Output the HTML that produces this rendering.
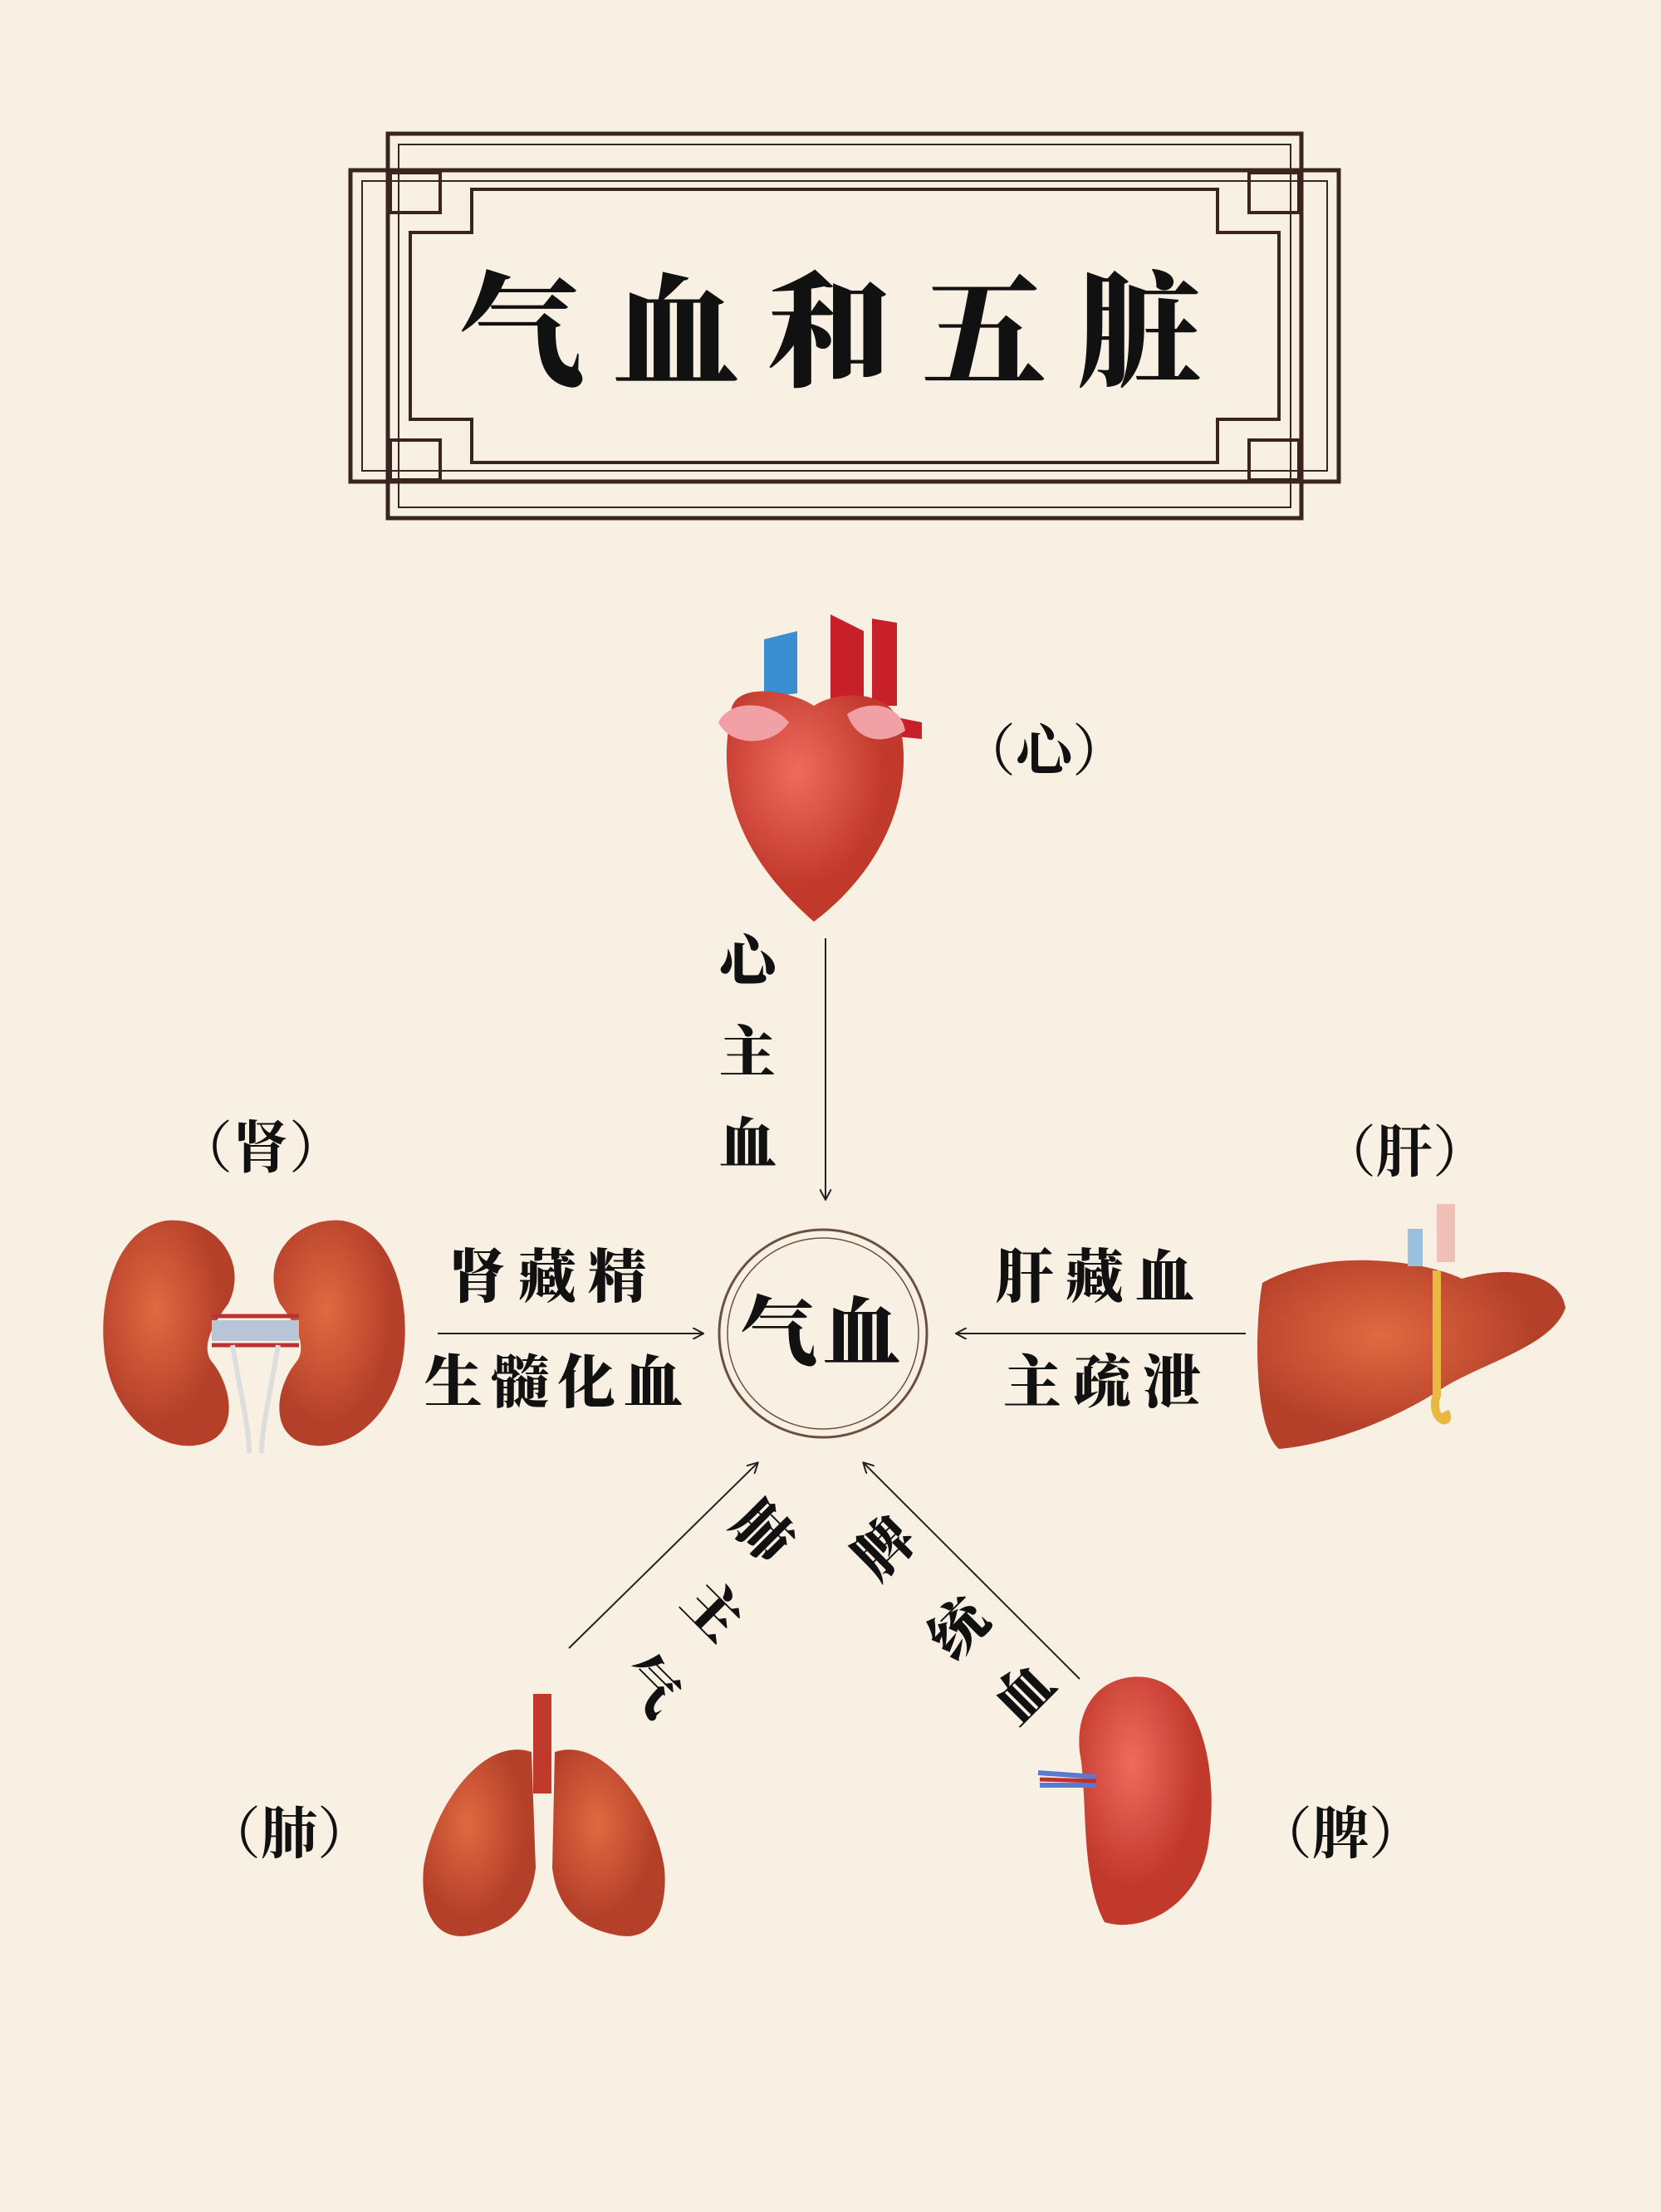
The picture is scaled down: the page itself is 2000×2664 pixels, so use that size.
<!DOCTYPE html>
<html><head><meta charset="utf-8"><style>
html,body{margin:0;padding:0}
body{width:2000px;height:2664px;background:#f9f0e4;position:relative;overflow:hidden;font-family:"Liberation Serif","Noto Serif CJK SC",serif;color:#111}
.t{position:absolute;font-weight:900;white-space:nowrap;transform:translate(-50%,-50%);line-height:1}
.p{font-weight:400}
svg{position:absolute;left:0;top:0}
</style></head><body>
<svg width="2000" height="2664" viewBox="0 0 2000 2664">
<defs><marker id="a" markerWidth="14" markerHeight="14" refX="12" refY="7" orient="auto" markerUnits="userSpaceOnUse"><path d="M0,0 L13,7 L0,14" fill="none" stroke="#222" stroke-width="2"/></marker>
<radialGradient id="r" cx="40%" cy="35%"><stop offset="0" stop-color="#f06a5e"/><stop offset="1" stop-color="#c0392b"/></radialGradient>
<radialGradient id="o" cx="40%" cy="40%"><stop offset="0" stop-color="#e06a40"/><stop offset="1" stop-color="#b5402a"/></radialGradient></defs>
<g fill="none" stroke="#3a2420">
<rect x="467" y="161" width="1100" height="463" stroke-width="5"/>
<rect x="480" y="174" width="1074" height="437" stroke-width="2"/>
<rect x="422" y="205" width="1190" height="375" stroke-width="5"/>
<rect x="436" y="218" width="1162" height="349" stroke-width="2"/>
<path d="M568,228 H1466 V280 H1540 V505 H1466 V557 H568 V505 H494 V280 H568 Z" stroke-width="4"/>
<rect x="470" y="208" width="60" height="48" stroke-width="4"/><rect x="1504" y="208" width="60" height="48" stroke-width="4"/>
<rect x="470" y="530" width="60" height="48" stroke-width="4"/><rect x="1504" y="530" width="60" height="48" stroke-width="4"/>
</g>
<g stroke="#222" stroke-width="2" fill="none">
<line x1="994" y1="1130" x2="994" y2="1444" marker-end="url(#a)"/>
<line x1="527" y1="1606" x2="846" y2="1606" marker-end="url(#a)"/>
<line x1="1500" y1="1606" x2="1152" y2="1606" marker-end="url(#a)"/>
<line x1="685" y1="1985" x2="912" y2="1762" marker-end="url(#a)"/>
<line x1="1300" y1="2022" x2="1040" y2="1762" marker-end="url(#a)"/>
<circle cx="991" cy="1606" r="125" stroke="#6b5040" stroke-width="3"/>
<circle cx="991" cy="1606" r="115" stroke="#6b5040" stroke-width="1.5"/>
</g>
<path d="M920,770 L920,840 L960,835 L960,760 Z" fill="#3b8fd0"/>
<path d="M1000,740 L1000,850 L1040,850 L1040,760 Z M1050,745 L1050,850 L1080,850 L1080,750 Z" fill="#c8202a"/>
<path d="M1060,860 L1110,870 L1110,890 L1060,885 Z" fill="#c8202a"/>
<path d="M880,860 C880,820 950,830 980,850 C1010,830 1080,830 1085,880 C1100,960 1060,1050 980,1110 C900,1040 860,960 880,860 Z" fill="url(#r)"/>
<path d="M865,870 C880,840 930,845 950,870 C930,900 880,900 865,870 Z M1020,860 C1050,840 1085,850 1090,880 C1060,900 1030,890 1020,860 Z" fill="#f1a0a6"/>
<path d="M200,1470 C140,1480 120,1560 125,1620 C130,1700 190,1750 240,1740 C290,1730 280,1670 255,1640 C240,1620 260,1590 275,1570 C300,1520 260,1465 200,1470 Z" fill="url(#o)"/>
<path d="M412,1470 C472,1480 492,1560 487,1620 C482,1700 422,1750 372,1740 C322,1730 332,1670 357,1640 C372,1620 352,1590 337,1570 C312,1520 352,1465 412,1470 Z" fill="url(#o)"/>
<path d="M255,1590 H360 V1615 H255 Z" fill="#b8c4d8"/><path d="M255,1585 H360 M255,1620 H360" stroke="#c03030" stroke-width="5"/>
<path d="M280,1620 C290,1680 300,1720 300,1750 M335,1620 C325,1680 315,1720 315,1750" stroke="#ddd" stroke-width="6" fill="none"/>
<path d="M1520,1545 C1600,1500 1720,1520 1760,1540 C1830,1520 1880,1540 1885,1575 C1870,1620 1790,1640 1740,1670 C1680,1710 1600,1740 1540,1745 C1510,1720 1510,1600 1520,1545 Z" fill="url(#o)"/>
<path d="M1730,1530 L1730,1680 C1720,1710 1750,1720 1740,1700" stroke="#e8b840" stroke-width="10" fill="none"/>
<rect x="1695" y="1480" width="18" height="45" fill="#9ac0e0"/><rect x="1730" y="1450" width="22" height="70" fill="#f0c0b8"/>
<rect x="642" y="2040" width="22" height="120" fill="#c0392b"/>
<path d="M640,2110 C580,2090 520,2180 510,2250 C505,2310 530,2340 570,2330 C620,2320 640,2290 645,2250 Z" fill="url(#o)"/>
<path d="M668,2110 C728,2090 790,2180 800,2250 C805,2310 780,2340 740,2330 C690,2320 670,2290 665,2250 Z" fill="url(#o)"/>
<path d="M1360,2020 C1440,2010 1470,2120 1455,2220 C1445,2290 1380,2330 1330,2315 C1300,2260 1310,2160 1300,2110 C1295,2060 1320,2025 1360,2020 Z" fill="url(#r)"/>
<path d="M1250,2135 L1320,2140 M1252,2150 L1320,2150" stroke="#5a7ad0" stroke-width="6"/><path d="M1252,2143 L1320,2145" stroke="#c03030" stroke-width="5"/>
</svg>
<div class="t" style="left:1017px;top:403px;font-size:150px;letter-spacing:36px">气血和五脏</div>
<div class="t p" style="left:1257px;top:905px;font-size:68px">（<b>心</b>）</div>
<div class="t p" style="left:314px;top:1383px;font-size:68px">（<b>肾</b>）</div>
<div class="t p" style="left:1691px;top:1388px;font-size:68px">（<b>肝</b>）</div>
<div class="t p" style="left:348px;top:2209px;font-size:68px">（<b>肺</b>）</div>
<div class="t p" style="left:1614px;top:2209px;font-size:68px">（<b>脾</b>）</div>
<div class="t" style="left:900px;top:1158px;font-size:68px">心</div>
<div class="t" style="left:900px;top:1268px;font-size:68px">主</div>
<div class="t" style="left:900px;top:1378px;font-size:68px">血</div>
<div class="t" style="left:666px;top:1540px;font-size:70px;letter-spacing:14px">肾藏精</div>
<div class="t" style="left:671px;top:1667px;font-size:70px;letter-spacing:10px">生髓化血</div>
<div class="t" style="left:1325px;top:1540px;font-size:70px;letter-spacing:14px">肝藏血</div>
<div class="t" style="left:1334px;top:1667px;font-size:70px;letter-spacing:14px">主疏泄</div>
<div class="t" style="left:991px;top:1606px;font-size:92px;letter-spacing:8px">气血</div>
<div class="t" style="left:918px;top:1845px;font-size:68px;transform:translate(-50%,-50%) rotate(45deg)">肺</div>
<div class="t" style="left:858px;top:1940px;font-size:68px;transform:translate(-50%,-50%) rotate(45deg)">主</div>
<div class="t" style="left:782px;top:2030px;font-size:68px;transform:translate(-50%,-50%) rotate(45deg)">气</div>
<div class="t" style="left:1065px;top:1865px;font-size:68px;transform:translate(-50%,-50%) rotate(-45deg)">脾</div>
<div class="t" style="left:1155px;top:1962px;font-size:68px;transform:translate(-50%,-50%) rotate(-45deg)">统</div>
<div class="t" style="left:1233px;top:2040px;font-size:68px;transform:translate(-50%,-50%) rotate(-45deg)">血</div>
</body></html>
